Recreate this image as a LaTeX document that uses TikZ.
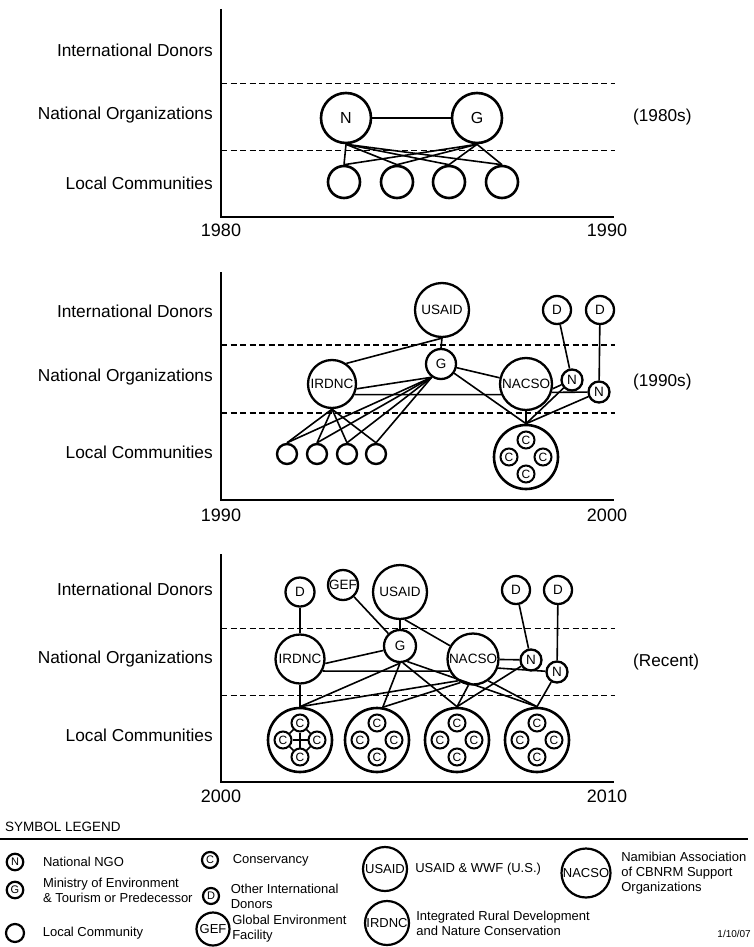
\documentclass[tikz,border=0pt]{standalone}
\usepackage{fontspec}
\setmainfont{Liberation Sans}
\usetikzlibrary{positioning, calc}

\tikzset{
  lane/.style={font=\fontsize{17.3}{20}\selectfont, anchor=east, inner sep=0pt},
  era/.style={font=\fontsize{17.2}{20}\selectfont, anchor=west, inner sep=0pt},
  year/.style={font=\fontsize{18}{20}\selectfont, inner sep=0pt},
  axisline/.style={line width=1.3pt},
  tierline/.style={dash pattern=on 6pt off 3.5pt, line width=0.8pt},
  org/.style={circle, draw, fill=white, line width=2.3pt, inner sep=0pt,
              font=\fontsize{13.5}{13.5}\selectfont},
  comm/.style={circle, draw, fill=white, line width=2.4pt, inner sep=0pt},
  ring/.style={circle, draw, line width=2.6pt, minimum size=64pt, inner sep=0pt},
  cons/.style={circle, draw, fill=white, line width=2pt, minimum size=17pt,
               inner sep=0pt, font=\fontsize{12}{12}\selectfont},
  link/.style={line width=1.6pt},
  keysym/.style={circle, draw, line width=2.2pt, inner sep=0pt,
                 font=\fontsize{13}{13}\selectfont},
  keytext/.style={font=\fontsize{13}{15}\selectfont, inner sep=0pt, align=left}
}

% a conservancy cluster: outer ring with four C's
\newcommand{\consgroup}[2]{%
  \node[ring] (#1) at (#2) {};
  \node[cons] (#1t) at ($(#1)+(0,-17)$) {C};
  \node[cons] (#1l) at ($(#1)+(-17,0)$) {C};
  \node[cons] (#1r) at ($(#1)+(17,0)$) {C};
  \node[cons] (#1b) at ($(#1)+(0,17)$) {C};
}

\begin{document}
\begin{tikzpicture}[x=1pt, y=-1pt]
\useasboundingbox (0,0) rectangle (753,947);

    % ---------- Panel 1: 1980s ----------
    \draw[axisline] (221,9) -- (221,217) -- (614,217);
    \draw[tierline] (221,83) -- (615,83);
    \draw[tierline] (221,150) -- (615,150);
    \node[lane] (donors1) at (213,50) {International Donors};
    \node[lane] (natorg1) at (213,115) {National Organizations};
    \node[lane] (local1) at (213,183) {Local Communities};
    \node[year] (yrA1) at (221,230) {1980};
    \node[year] (yrB1) at (607,230) {1990};
    \node[era] (era1) at (633,117) {(1980s)};

    \node[org, minimum size=50pt, line width=2.6pt, font=\fontsize{16}{16}\selectfont] (ngo1) at (346,118) {N};
    \node[org, minimum size=50pt, line width=2.6pt, font=\fontsize{16}{16}\selectfont] (gov1) at (477,118) {G};
    \foreach \i/\x in {1/344, 2/397, 3/449, 4/502}
        \node[comm, minimum size=32pt, line width=2.6pt] (lc1\i) at (\x,182) {};

    \draw[link] (ngo1) -- (gov1);
    \foreach \i in {1,...,4} {
        \draw[link] (ngo1.south) -- (lc1\i.north);
        \draw[link] (gov1.south) -- (lc1\i.north);
    }

    % ---------- Panel 2: 1990s ----------
    \draw[axisline] (221,272) -- (221,500) -- (614,500);
    \draw[tierline, line width=2pt] (221,345) -- (615,345);
    \draw[tierline, line width=2pt] (221,413) -- (615,413);
    \node[lane] (donors2) at (213,311) {International Donors};
    \node[lane] (natorg2) at (213,377) {National Organizations};
    \node[lane] (local2) at (213,452) {Local Communities};
    \node[year] (yrA2) at (221,515) {1990};
    \node[year] (yrB2) at (607,515) {2000};
    \node[era] (era2) at (633,382) {(1990s)};

    \node[org, minimum size=54pt] (usaid2) at (442,310) {USAID};
    \node[org, minimum size=28pt] (don2a) at (557,310) {D};
    \node[org, minimum size=28pt] (don2b) at (600,310) {D};
    \node[org, minimum size=30pt] (gov2) at (441,364) {G};
    \node[org, minimum size=48pt] (irdnc2) at (332,384) {IRDNC};
    \node[org, minimum size=52pt] (nacso2) at (526,384) {NACSO};
    \node[org, minimum size=21pt] (ngo2a) at (572,380) {N};
    \node[org, minimum size=21pt] (ngo2b) at (599,392) {N};
    \consgroup{grp2}{526,457}
    \foreach \i/\x in {1/287, 2/317, 3/347, 4/376}
        \node[comm, minimum size=20pt] (lc2\i) at (\x,454) {};

    \draw[link] (usaid2.south) -- (gov2.north);
    \draw[link] (usaid2.south) -- (irdnc2.55);
    \draw[link] (gov2.235) -- (irdnc2.-11);
    \draw[link] (irdnc2.-25) -- (nacso2.203);
    \draw[link] (gov2) -- (nacso2);
    \draw[link] (nacso2.-10) -- (ngo2a);
    \draw[link] (nacso2.-18) -- (ngo2b);
    \draw[link] (don2a) -- (ngo2a);
    \draw[link] (don2b) -- (ngo2b);
    \draw[link] (gov2) -- (grp2.north);
    \draw[link] (nacso2.south) -- (grp2.north);
    \draw[link] (ngo2a) -- (grp2.north);
    \draw[link] (ngo2b) -- (grp2.north);
    \foreach \i in {1,...,4} {
        \draw[link] (irdnc2.south) -- (lc2\i.north);
        \draw[link] (gov2.235) -- (lc2\i.north);
    }

    % ---------- Panel 3: recent ----------
    \draw[axisline] (221,554) -- (221,782) -- (614,782);
    \draw[tierline] (221,628) -- (615,628);
    \draw[tierline] (221,695) -- (615,695);
    \node[lane] (donors3) at (213,589) {International Donors};
    \node[lane] (natorg3) at (213,659) {National Organizations};
    \node[lane] (local3) at (213,735) {Local Communities};
    \node[year] (yrA3) at (221,796) {2000};
    \node[year] (yrB3) at (607,796) {2010};
    \node[era] (era3) at (633,662) {(Recent)};

    \node[org, minimum size=29pt] (don3a) at (300,592) {D};
    \node[org, minimum size=30pt] (gef3) at (343,585) {GEF};
    \node[org, minimum size=54pt] (usaid3) at (400,592) {USAID};
    \node[org, minimum size=28pt] (don3b) at (516,590) {D};
    \node[org, minimum size=28pt] (don3c) at (558,590) {D};
    \node[org, minimum size=32pt] (gov3) at (400,646) {G};
    \node[org, minimum size=49pt] (irdnc3) at (300,659) {IRDNC};
    \node[org, minimum size=51pt] (nacso3) at (473,659) {NACSO};
    \node[org, minimum size=21pt] (ngo3a) at (531,660) {N};
    \node[org, minimum size=21pt] (ngo3b) at (557,672) {N};
    \consgroup{grp3a}{300,740}
    \consgroup{grp3b}{377,740}
    \consgroup{grp3c}{457,740}
    \consgroup{grp3d}{537,740}

    \draw[link] (don3a) -- (irdnc3);
    \draw[link] (gef3) -- (gov3);
    \draw[link] (usaid3) -- (gov3);
    \draw[link] (usaid3.-80) -- (nacso3);
    \draw[link] (don3b) -- (ngo3a);
    \draw[link] (don3c) -- (ngo3b);
    \draw[link] (irdnc3.-10) -- (gov3.195);
    \draw[link] (irdnc3.-28) -- (nacso3.207);
    \draw[link] (nacso3) -- (ngo3a);
    \draw[link] (nacso3.-20) -- (ngo3b);
    \draw[link] (irdnc3) -- (grp3a.north);
    \draw[link] (gov3.south) -- (grp3a.north);
    \draw[link] (gov3.south) -- (grp3b.80);
    \draw[link] (gov3.-80) -- (grp3c.north);
    \draw[link] (gov3.-65) -- (grp3d.north);
    \draw[link] (nacso3.235) -- (grp3a.north);
    \draw[link] (nacso3.242) -- (grp3b.80);
    \draw[link] (nacso3.260) -- (grp3c.north);
    \draw[link] (nacso3.-55) -- (grp3d.north);
    \draw[link] (ngo3a) -- (grp3c.north);
    \draw[link] (ngo3b) -- (grp3d.north);
    \foreach \p/\q in {t/l, l/b, b/r, r/t, t/b, l/r}
        \draw[link] (grp3a\p) -- (grp3a\q);

    % ---------- Legend ----------
    \node[anchor=west, inner sep=0pt, font=\fontsize{13.5}{15}\selectfont] (legtitle) at (5,827) {SYMBOL LEGEND};
    \draw[line width=2.2pt] (0,839) -- (748,839);

    \node[keysym, minimum size=16.5pt, font=\fontsize{11}{11}\selectfont] (keyN) at (15,862) {N};
    \node[keytext, right=18.5pt of keyN] (txtN) {National NGO};
    \node[keysym, minimum size=16.5pt, font=\fontsize{11}{11}\selectfont] (keyG) at (15,890) {G};
    \node[keytext, right=18.5pt of keyG] (txtG) {Ministry of Environment\\\& Tourism or Predecessor};
    \node[keysym, minimum size=18pt] (keyL) at (15,933) {};
    \node[keytext, right=17.5pt of keyL] (txtL) {Local Community};

    \node[keysym, minimum size=16pt, font=\fontsize{11}{11}\selectfont] (keyC) at (210,860) {C};
    \node[keytext, right=13.5pt of keyC] (txtC) {Conservancy};
    \node[keysym, minimum size=16pt, font=\fontsize{11}{11}\selectfont] (keyD) at (211,896) {D};
    \node[keytext, right=10.5pt of keyD] (txtD) {Other International\\Donors};
    \node[keysym, minimum size=33pt] (keyGEF) at (213,929) {GEF};
    \node[keytext, right=1.5pt of keyGEF] (txtGEF) {Global Environment\\Facility};

    \node[keysym, minimum size=44pt] (keyUSAID) at (385,869) {USAID};
    \node[keytext, right=7pt of keyUSAID] (txtUSAID) {USAID \& WWF (U.S.)};
    \node[keysym, minimum size=44pt] (keyIRDNC) at (387,923) {IRDNC};
    \node[keytext, right=6pt of keyIRDNC] (txtIRDNC) {Integrated Rural Development\\and Nature Conservation};

    \node[keysym, minimum size=49pt] (keyNACSO) at (586,873) {NACSO};
    \node[keytext, right=9.5pt of keyNACSO] (txtNACSO) {Namibian Association\\of CBNRM Support\\Organizations};

    \node[anchor=east, inner sep=0pt, font=\fontsize{10}{12}\selectfont] (date) at (751,934) {1/10/07};

\end{tikzpicture}
\end{document}
